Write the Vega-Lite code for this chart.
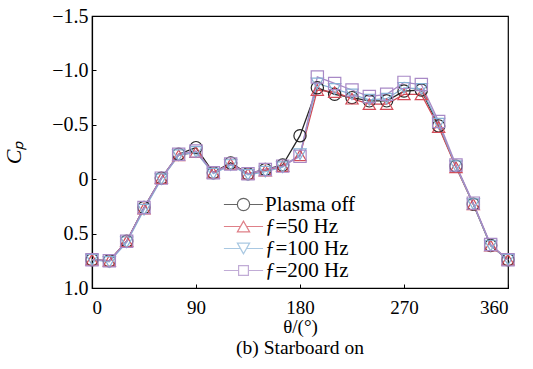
{
  "$schema": "https://vega.github.io/schema/vega-lite/v6.json",
  "width": 416,
  "height": 272,
  "autosize": "none",
  "padding": {"left": 92, "top": 16, "right": 25, "bottom": 81},
  "background": "white",
  "config": {
    "view": {"stroke": "black", "strokeWidth": 1.2},
    "font": "Liberation Serif",
    "axis": {
      "domainColor": "black", "domainWidth": 1.2, "tickColor": "black", "tickWidth": 1,
      "labelColor": "black", "titleColor": "black", "grid": false,
      "labelFont": "Liberation Serif", "titleFont": "Liberation Serif",
      "labelFontSize": 19, "titleFontSize": 19, "titleFontWeight": "normal",
      "tickSize": -4
    },
    "legend": {"labelFont": "Liberation Serif", "labelFontSize": 21, "labelColor": "black", "symbolSize": 150, "symbolStrokeWidth": 1.2, "rowPadding": 0, "labelOffset": 11}
  },
  "title": {
    "text": "(b) Starboard on", "orient": "bottom", "anchor": "middle",
    "font": "Liberation Serif", "fontSize": 19.5, "fontWeight": "normal", "color": "black", "offset": 3
  },
  "data": {
    "values": [
      {"theta": 0, "series": "Plasma off", "cp": 0.74},
      {"theta": 15, "series": "Plasma off", "cp": 0.75},
      {"theta": 30, "series": "Plasma off", "cp": 0.57},
      {"theta": 45, "series": "Plasma off", "cp": 0.26},
      {"theta": 60, "series": "Plasma off", "cp": -0.01},
      {"theta": 75, "series": "Plasma off", "cp": -0.23},
      {"theta": 90, "series": "Plasma off", "cp": -0.29},
      {"theta": 105, "series": "Plasma off", "cp": -0.06},
      {"theta": 120, "series": "Plasma off", "cp": -0.15},
      {"theta": 135, "series": "Plasma off", "cp": -0.05},
      {"theta": 150, "series": "Plasma off", "cp": -0.09},
      {"theta": 165, "series": "Plasma off", "cp": -0.13},
      {"theta": 180, "series": "Plasma off", "cp": -0.40},
      {"theta": 195, "series": "Plasma off", "cp": -0.84},
      {"theta": 210, "series": "Plasma off", "cp": -0.78},
      {"theta": 225, "series": "Plasma off", "cp": -0.75},
      {"theta": 240, "series": "Plasma off", "cp": -0.72},
      {"theta": 255, "series": "Plasma off", "cp": -0.72},
      {"theta": 270, "series": "Plasma off", "cp": -0.81},
      {"theta": 285, "series": "Plasma off", "cp": -0.82},
      {"theta": 300, "series": "Plasma off", "cp": -0.49},
      {"theta": 315, "series": "Plasma off", "cp": -0.12},
      {"theta": 330, "series": "Plasma off", "cp": 0.23},
      {"theta": 345, "series": "Plasma off", "cp": 0.61},
      {"theta": 360, "series": "Plasma off", "cp": 0.74},

      {"theta": 0, "series": "f=50 Hz", "cp": 0.74},
      {"theta": 15, "series": "f=50 Hz", "cp": 0.75},
      {"theta": 30, "series": "f=50 Hz", "cp": 0.57},
      {"theta": 45, "series": "f=50 Hz", "cp": 0.27},
      {"theta": 60, "series": "f=50 Hz", "cp": -0.01},
      {"theta": 75, "series": "f=50 Hz", "cp": -0.22},
      {"theta": 90, "series": "f=50 Hz", "cp": -0.25},
      {"theta": 105, "series": "f=50 Hz", "cp": -0.06},
      {"theta": 120, "series": "f=50 Hz", "cp": -0.14},
      {"theta": 135, "series": "f=50 Hz", "cp": -0.05},
      {"theta": 150, "series": "f=50 Hz", "cp": -0.08},
      {"theta": 165, "series": "f=50 Hz", "cp": -0.12},
      {"theta": 180, "series": "f=50 Hz", "cp": -0.22},
      {"theta": 195, "series": "f=50 Hz", "cp": -0.82},
      {"theta": 210, "series": "f=50 Hz", "cp": -0.80},
      {"theta": 225, "series": "f=50 Hz", "cp": -0.74},
      {"theta": 240, "series": "f=50 Hz", "cp": -0.69},
      {"theta": 255, "series": "f=50 Hz", "cp": -0.69},
      {"theta": 270, "series": "f=50 Hz", "cp": -0.78},
      {"theta": 285, "series": "f=50 Hz", "cp": -0.78},
      {"theta": 300, "series": "f=50 Hz", "cp": -0.48},
      {"theta": 315, "series": "f=50 Hz", "cp": -0.11},
      {"theta": 330, "series": "f=50 Hz", "cp": 0.23},
      {"theta": 345, "series": "f=50 Hz", "cp": 0.61},
      {"theta": 360, "series": "f=50 Hz", "cp": 0.74},

      {"theta": 0, "series": "f=100 Hz", "cp": 0.74},
      {"theta": 15, "series": "f=100 Hz", "cp": 0.76},
      {"theta": 30, "series": "f=100 Hz", "cp": 0.58},
      {"theta": 45, "series": "f=100 Hz", "cp": 0.28},
      {"theta": 60, "series": "f=100 Hz", "cp": 0.0},
      {"theta": 75, "series": "f=100 Hz", "cp": -0.22},
      {"theta": 90, "series": "f=100 Hz", "cp": -0.25},
      {"theta": 105, "series": "f=100 Hz", "cp": -0.05},
      {"theta": 120, "series": "f=100 Hz", "cp": -0.13},
      {"theta": 135, "series": "f=100 Hz", "cp": -0.04},
      {"theta": 150, "series": "f=100 Hz", "cp": -0.07},
      {"theta": 165, "series": "f=100 Hz", "cp": -0.11},
      {"theta": 180, "series": "f=100 Hz", "cp": -0.23},
      {"theta": 195, "series": "f=100 Hz", "cp": -0.88},
      {"theta": 210, "series": "f=100 Hz", "cp": -0.83},
      {"theta": 225, "series": "f=100 Hz", "cp": -0.78},
      {"theta": 240, "series": "f=100 Hz", "cp": -0.73},
      {"theta": 255, "series": "f=100 Hz", "cp": -0.74},
      {"theta": 270, "series": "f=100 Hz", "cp": -0.84},
      {"theta": 285, "series": "f=100 Hz", "cp": -0.83},
      {"theta": 300, "series": "f=100 Hz", "cp": -0.51},
      {"theta": 315, "series": "f=100 Hz", "cp": -0.12},
      {"theta": 330, "series": "f=100 Hz", "cp": 0.23},
      {"theta": 345, "series": "f=100 Hz", "cp": 0.61},
      {"theta": 360, "series": "f=100 Hz", "cp": 0.74},

      {"theta": 0, "series": "f=200 Hz", "cp": 0.74},
      {"theta": 15, "series": "f=200 Hz", "cp": 0.75},
      {"theta": 30, "series": "f=200 Hz", "cp": 0.57},
      {"theta": 45, "series": "f=200 Hz", "cp": 0.26},
      {"theta": 60, "series": "f=200 Hz", "cp": -0.01},
      {"theta": 75, "series": "f=200 Hz", "cp": -0.23},
      {"theta": 90, "series": "f=200 Hz", "cp": -0.26},
      {"theta": 105, "series": "f=200 Hz", "cp": -0.06},
      {"theta": 120, "series": "f=200 Hz", "cp": -0.14},
      {"theta": 135, "series": "f=200 Hz", "cp": -0.05},
      {"theta": 150, "series": "f=200 Hz", "cp": -0.09},
      {"theta": 165, "series": "f=200 Hz", "cp": -0.12},
      {"theta": 180, "series": "f=200 Hz", "cp": -0.21},
      {"theta": 195, "series": "f=200 Hz", "cp": -0.94},
      {"theta": 210, "series": "f=200 Hz", "cp": -0.88},
      {"theta": 225, "series": "f=200 Hz", "cp": -0.82},
      {"theta": 240, "series": "f=200 Hz", "cp": -0.76},
      {"theta": 255, "series": "f=200 Hz", "cp": -0.78},
      {"theta": 270, "series": "f=200 Hz", "cp": -0.89},
      {"theta": 285, "series": "f=200 Hz", "cp": -0.87},
      {"theta": 300, "series": "f=200 Hz", "cp": -0.53},
      {"theta": 315, "series": "f=200 Hz", "cp": -0.13},
      {"theta": 330, "series": "f=200 Hz", "cp": 0.22},
      {"theta": 345, "series": "f=200 Hz", "cp": 0.60},
      {"theta": 360, "series": "f=200 Hz", "cp": 0.74}
    ]
  },
  "encoding": {
    "x": {
      "field": "theta", "type": "quantitative",
      "scale": {"domain": [0, 360], "nice": false},
      "axis": {"values": [0, 90, 180, 270, 360], "title": "θ/(°)", "labelFont": "Liberation Serif", "titleFont": "Liberation Serif", "labelPadding": 14, "titlePadding": 0}
    },
    "y": {
      "field": "cp", "type": "quantitative",
      "scale": {"domain": [-1.5, 1.0], "reverse": true, "nice": false, "zero": false},
      "axis": {
        "values": [-1.5, -1, -0.5, 0, 0.5, 1],
        "labelExpr": "datum.value == 0 ? '0' : format(datum.value, '.1f')",
        "labelFontSize": 20,
        "labelFont": "Liberation Serif", "titleFont": "Liberation Serif",
        "title": "Cₚ", "titleFontStyle": "italic", "titleFontSize": 22,
        "labelPadding": 8, "titlePadding": 26
      }
    }
  },
  "resolve": {"scale": {"shape": "independent", "color": "independent"}},
  "layer": [
    {
      "mark": {"type": "line", "strokeWidth": 1.3},
      "encoding": {
        "color": {
          "field": "series", "type": "nominal",
          "scale": {"domain": ["Plasma off", "f=50 Hz", "f=100 Hz", "f=200 Hz"], "range": ["#262626", "#d24b57", "#86b2d6", "#a889c6"]},
          "legend": null
        }
      }
    },
    {
      "mark": {"type": "point", "filled": false, "size": 150, "strokeWidth": 1.2, "opacity": 1},
      "encoding": {
        "color": {
          "field": "series", "type": "nominal",
          "scale": {"domain": ["Plasma off", "f=50 Hz", "f=100 Hz", "f=200 Hz"], "range": ["#262626", "#d24b57", "#86b2d6", "#a889c6"]},
          "legend": null
        },
        "shape": {
          "field": "series", "type": "nominal",
          "scale": {"domain": ["Plasma off", "f=50 Hz", "f=100 Hz", "f=200 Hz"], "range": ["circle", "triangle-up", "triangle-down", "square"]},
          "legend": null
        }
      }
    },
    {
      "transform": [{"filter": "false"}],
      "mark": {"type": "point", "filled": false, "strokeWidth": 1.2},
      "encoding": {
        "color": {
          "field": "series", "type": "nominal",
          "scale": {"domain": ["Plasma off", "f=50 Hz", "f=100 Hz", "f=200 Hz"], "range": ["#262626", "#d24b57", "#86b2d6", "#a889c6"]},
          "legend": {
            "orient": "none", "legendX": 141, "legendY": 178,
            "title": null, "labelFont": "Liberation Serif", "labelFontSize": 21, "labelColor": "black",
            "symbolSize": 150, "rowPadding": 0, "labelOffset": 11, "symbolStrokeWidth": 1.2,
            "labelExpr": "replace(datum.label, 'f=', 'ƒ=')"
          }
        },
        "shape": {
          "field": "series", "type": "nominal",
          "scale": {
            "domain": ["Plasma off", "f=50 Hz", "f=100 Hz", "f=200 Hz"],
            "range": [
              "M-3.2,0L-1,0M1,0L3.2,0M1,0A1,1,0,1,1,-1,0A1,1,0,1,1,1,0Z",
              "M-3.2,0L-0.5,0M0.5,0L3.2,0M0,-0.87L-1,0.87L1,0.87Z",
              "M-3.2,0L-0.5,0M0.5,0L3.2,0M0,0.87L-1,-0.87L1,-0.87Z",
              "M-3.2,0L-0.8,0M0.8,0L3.2,0M-0.8,-0.8L0.8,-0.8L0.8,0.8L-0.8,0.8Z"
            ]
          },
          "legend": {
            "orient": "none", "legendX": 141, "legendY": 178,
            "title": null, "labelFont": "Liberation Serif", "labelFontSize": 21, "labelColor": "black",
            "symbolSize": 150, "rowPadding": 0, "labelOffset": 11, "symbolStrokeWidth": 1.2,
            "labelExpr": "replace(datum.label, 'f=', 'ƒ=')"
          }
        }
      }
    }
  ]
}
